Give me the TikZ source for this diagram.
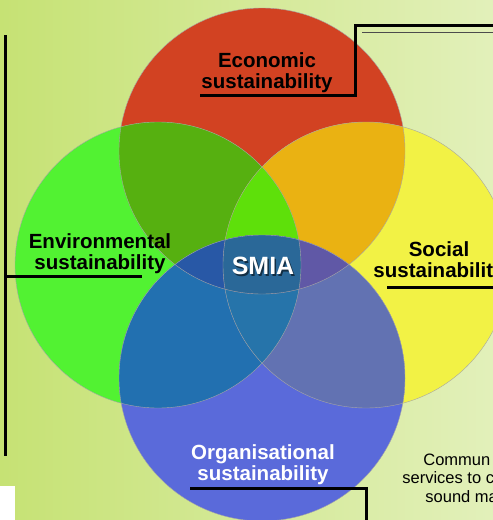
\documentclass[tikz,border=0pt]{standalone}
\usepackage{fontspec}
\setmainfont{Liberation Sans}

\definecolor{bgLeft}{HTML}{C6E274}
\definecolor{bgRight}{HTML}{E2F0BA}
\definecolor{ecoRed}{HTML}{D24222}
\definecolor{envGreen}{HTML}{52F232}
\definecolor{socYellow}{HTML}{F2F245}
\definecolor{orgBlue}{HTML}{5A6ADA}
\definecolor{redGreen}{HTML}{56B010}
\definecolor{redYellow}{HTML}{EAB212}
\definecolor{triGreen}{HTML}{5EE00A}
\definecolor{blueGreen}{HTML}{2270B0}
\definecolor{blueYellow}{HTML}{6272B2}
\definecolor{blueGY}{HTML}{2674AA}
\definecolor{blueRedGreen}{HTML}{2858A6}
\definecolor{blueRedYellow}{HTML}{6058A6}
\definecolor{blueAll}{HTML}{2A6898}

\newcommand{\vennr}{143pt}

\begin{document}
\begin{tikzpicture}[x=1pt,y=-1pt,thick,
    label text/.style={font=\fontsize{20.5}{21}\selectfont\bfseries,align=center,inner sep=0pt},
    small text/.style={font=\fontsize{16.5}{18.5}\selectfont,anchor=base west,inner sep=0pt},
    smia text/.style={font=\fontsize{25}{25}\selectfont\bfseries,inner sep=0pt},
    rule/.style={line width=3pt},
    thin rule/.style={line width=1.3pt,black!70},
    rim/.style={draw=black!35,line width=0.4pt}]

    \useasboundingbox (0,0) rectangle (493,520);
    \clip (0,0) rectangle (493,520);
    \shade[left color=bgLeft,right color=bgRight] (0,0) rectangle (493,520);
    \fill[white] (0,486) rectangle (15,520);

    % circle centres
    \coordinate (eco) at (262,151);
    \coordinate (env) at (158,265);
    \coordinate (soc) at (366,265);
    \coordinate (org) at (262,378);

    \fill[ecoRed] (eco) circle[radius=\vennr];
    \fill[envGreen] (env) circle[radius=\vennr];
    \fill[socYellow] (soc) circle[radius=\vennr];
    \begin{scope}
        \clip (eco) circle[radius=\vennr];
        \fill[redGreen] (env) circle[radius=\vennr];
        \fill[redYellow] (soc) circle[radius=\vennr];
        \clip (env) circle[radius=\vennr];
        \fill[triGreen] (soc) circle[radius=\vennr];
    \end{scope}

    \fill[orgBlue] (org) circle[radius=\vennr];
    \begin{scope}
        \clip (org) circle[radius=\vennr];
        \fill[blueGreen] (env) circle[radius=\vennr];
        \fill[blueYellow] (soc) circle[radius=\vennr];
        \begin{scope}
            \clip (env) circle[radius=\vennr];
            \fill[blueGY] (soc) circle[radius=\vennr];
        \end{scope}
        \clip (eco) circle[radius=\vennr];
        \fill[blueRedGreen] (env) circle[radius=\vennr];
        \fill[blueRedYellow] (soc) circle[radius=\vennr];
        \clip (env) circle[radius=\vennr];
        \fill[blueAll] (soc) circle[radius=\vennr];
    \end{scope}

    \foreach \c in {eco,env,soc,org}
        \draw[rim] (\c) circle[radius=\vennr];

    % labels
    \node[label text] (ecolabel) at (267,73) {Economic\\sustainability};
    \node[label text] (envlabel) at (100,253.5) {Environmental\\sustainability};
    \node[label text] (soclabel) at (439,262) {Social\\sustainability};
    \node[label text,text=white] (orglabel) at (263,464.5) {Organisational\\sustainability};
    \node[smia text,text=black,opacity=0.55] (smiashadow) at (264.5,267.5) {SMIA};
    \node[smia text,text=white] (smia) at (263,266) {SMIA};

    \node[small text] (comm1) at (423,465) {Commun};
    \node[small text] (comm2) at (402,483.5) {services to c};
    \node[small text] (comm3) at (425,502) {sound ma};

    % rules
    \coordinate (ecoA) at (200,95);
    \coordinate (ecoB) at (355,25);
    \coordinate (ecoC) at (494,25);
    \coordinate (ecoD) at (362,32.5);
    \coordinate (ecoE) at (494,32.5);
    \draw[rule] (ecoA) -| (ecoB) -- (ecoC);
    \draw[thin rule] (ecoD) -- (ecoE);

    \coordinate (envTop) at (5,35);
    \coordinate (envBot) at (5,456);
    \coordinate (envMid) at (5,276);
    \coordinate (envEnd) at (142,276);
    \draw[rule] (envTop) -- (envBot);
    \draw[rule] (envMid) -- (envEnd);

    \coordinate (socA) at (387,287);
    \coordinate (socB) at (494,287);
    \draw[rule] (socA) -- (socB);

    \coordinate (orgA) at (190,488);
    \coordinate (orgB) at (366,521);
    \draw[rule] (orgA) -| (orgB);
\end{tikzpicture}
\end{document}
